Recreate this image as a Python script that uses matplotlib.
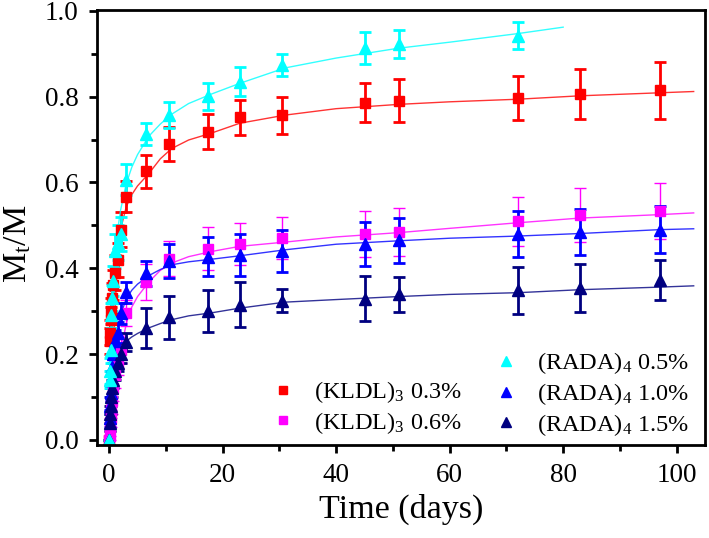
import numpy as np
import matplotlib
matplotlib.use('Agg')
import matplotlib.pyplot as plt
from matplotlib.ticker import MultipleLocator
from matplotlib.lines import Line2D

plt.rcParams['font.family'] = ['Liberation Serif', 'DejaVu Serif']
plt.rcParams['mathtext.fontset'] = 'custom'
plt.rcParams['mathtext.rm'] = 'Liberation Serif'
plt.rcParams['mathtext.it'] = 'Liberation Serif'

# release sampling times (days)
t = [0, 0.08, 0.17, 0.25, 0.33, 0.5, 0.75, 1, 1.5, 2, 3, 6.5, 10.5, 17.5, 23, 30.5, 45, 51, 72, 83, 97]
t_cyan = t[:19]

# measured Mt/M with error bars
kldl_03 = [0.0, 0.23, 0.25, 0.28, 0.30, 0.33, 0.36, 0.39, 0.42, 0.49, 0.567, 0.626, 0.689, 0.718, 0.752,
           0.757, 0.786, 0.791, 0.796, 0.806, 0.815]
kldl_03_err = [0.0, 0.03, 0.03, 0.03, 0.03, 0.035, 0.035, 0.04, 0.04, 0.04, 0.037, 0.038, 0.04, 0.041,
               0.041, 0.043, 0.045, 0.049, 0.051, 0.058, 0.066]
kldl_06 = [0.0, 0.01, 0.03, 0.05, 0.07, 0.09, 0.12, 0.15, 0.18, 0.21, 0.295, 0.368, 0.422, 0.446, 0.456,
           0.470, 0.480, 0.485, 0.509, 0.524, 0.533]
kldl_06_err = [0.0, 0.01, 0.02, 0.02, 0.02, 0.03, 0.03, 0.03, 0.03, 0.03, 0.03, 0.043, 0.041, 0.05,
               0.049, 0.049, 0.053, 0.056, 0.058, 0.062, 0.065]
rada_05 = [0.0, 0.14, 0.16, 0.21, 0.29, 0.33, 0.37, 0.44, 0.46, 0.48, 0.606, 0.713, 0.757, 0.801, 0.835,
           0.874, 0.913, 0.922, 0.942]
rada_05_err = [0.0, 0.02, 0.03, 0.03, 0.03, 0.03, 0.035, 0.04, 0.04, 0.04, 0.036, 0.026, 0.031, 0.031,
               0.033, 0.026, 0.038, 0.033, 0.032]
rada_10 = [0.0, 0.05, 0.08, 0.11, 0.14, 0.17, 0.2, 0.23, 0.25, 0.295, 0.344, 0.388, 0.417, 0.427, 0.431,
           0.441, 0.456, 0.465, 0.480, 0.485, 0.490]
rada_10_err = [0.0, 0.02, 0.02, 0.02, 0.02, 0.02, 0.02, 0.025, 0.025, 0.025, 0.025, 0.03, 0.04, 0.045,
               0.048, 0.049, 0.051, 0.052, 0.053, 0.053, 0.055]
rada_15 = [0.0, 0.04, 0.06, 0.08, 0.10, 0.12, 0.14, 0.16, 0.18, 0.2, 0.227, 0.261, 0.286, 0.300, 0.315,
           0.324, 0.329, 0.339, 0.349, 0.354, 0.373]
rada_15_err = [0.0, 0.02, 0.02, 0.02, 0.02, 0.02, 0.02, 0.02, 0.02, 0.02, 0.021, 0.046, 0.05, 0.049,
               0.052, 0.027, 0.053, 0.04, 0.055, 0.055, 0.046]

# fitted curves
tf = [0, 0.25, 0.5, 1, 1.5, 2, 3, 4, 5, 7, 9, 11, 14, 18, 23, 31, 40, 51, 60, 72, 83, 97, 103]
tf_cyan = [0, 0.25, 0.5, 1, 1.5, 2, 3, 4, 5, 7, 9, 11, 14, 18, 23, 31, 40, 51, 60, 72, 80]
fit_kldl_03 = [0, 0.07, 0.15, 0.3, 0.42, 0.49, 0.543, 0.572, 0.592, 0.621, 0.655, 0.679, 0.699, 0.715,
               0.738, 0.757, 0.772, 0.782, 0.788, 0.794, 0.802, 0.809, 0.812]
fit_kldl_06 = [0, 0.005, 0.02, 0.08, 0.15, 0.2, 0.271, 0.310, 0.334, 0.368, 0.395, 0.412, 0.427, 0.439,
               0.451, 0.461, 0.473, 0.483, 0.493, 0.506, 0.517, 0.525, 0.529]
fit_rada_05 = [0, 0.2, 0.3, 0.42, 0.49, 0.535, 0.597, 0.636, 0.665, 0.708, 0.736, 0.759, 0.784, 0.806,
               0.831, 0.867, 0.890, 0.913, 0.927, 0.947, 0.962]
fit_rada_10 = [0, 0.1, 0.15, 0.21, 0.26, 0.29, 0.329, 0.349, 0.363, 0.383, 0.397, 0.408, 0.415, 0.421,
               0.429, 0.443, 0.456, 0.464, 0.470, 0.475, 0.481, 0.490, 0.492]
fit_rada_15 = [0, 0.06, 0.1, 0.15, 0.185, 0.205, 0.230, 0.240, 0.248, 0.261, 0.271, 0.280, 0.289, 0.296,
               0.307, 0.321, 0.327, 0.334, 0.339, 0.343, 0.350, 0.356, 0.359]

labels = [r'(KLDL)$_3$ 0.3%', r'(KLDL)$_3$ 0.6%', r'(RADA)$_4$ 0.5%',
          r'(RADA)$_4$ 1.0%', r'(RADA)$_4$ 1.5%']

fig = plt.figure(figsize=(7.09, 5.38), dpi=100)
ax = fig.add_axes([0.1364, 0.1729, 0.858, 0.8085])

series = [
    (t, kldl_03, kldl_03_err, tf, fit_kldl_03, '#ff0000', 's', 2.0),
    (t, kldl_06, kldl_06_err, tf, fit_kldl_06, '#ff00ff', 's', 1.0),
    (t, rada_10, rada_10_err, tf, fit_rada_10, '#0000ff', '^', 2.0),
    (t, rada_15, rada_15_err, tf, fit_rada_15, '#000080', '^', 2.0),
    (t_cyan, rada_05, rada_05_err, tf_cyan, fit_rada_05, '#00ffff', '^', 2.0),
]
for x, y, e, xf, yf, c, m, lw in series:
    ax.plot(xf, yf, color=c, lw=1.0, alpha=0.8)
    ms = 7 if m == 's' else 9
    ax.errorbar(x, y, yerr=e, fmt=m, color=c, ms=ms, elinewidth=lw, capsize=4.5, capthick=lw)

# legend: empty slot on top of the KLDL column
blank = Line2D([], [], linestyle='none', marker='none')
handles = [blank,
           Line2D([], [], ls='none', marker='s', color='#ff0000', ms=6),
           Line2D([], [], ls='none', marker='s', color='#ff00ff', ms=6),
           Line2D([], [], ls='none', marker='^', color='#00ffff', ms=7),
           Line2D([], [], ls='none', marker='^', color='#0000ff', ms=7),
           Line2D([], [], ls='none', marker='^', color='#000080', ms=7)]
ax.legend(handles, [''] + labels[:2] + labels[2:], ncol=2, frameon=False, fontsize=17.5,
          loc='lower right', bbox_to_anchor=(1.01, -0.034), handletextpad=0.7,
          columnspacing=1.2, labelspacing=0.2, handlelength=1.2)

ax.set_xlim(-2.2, 105)
ax.set_ylim(-0.012, 1.002)
ax.xaxis.set_major_locator(MultipleLocator(20))
ax.xaxis.set_minor_locator(MultipleLocator(10))
ax.yaxis.set_major_locator(MultipleLocator(0.2))
ax.yaxis.set_minor_locator(MultipleLocator(0.1))
ax.yaxis.set_major_formatter(plt.FormatStrFormatter('%.1f'))
ax.tick_params(which='major', direction='out', length=6, width=2, labelsize=19.5, pad=7)
ax.tick_params(which='minor', direction='out', length=4, width=2)
for s in ax.spines.values():
    s.set_linewidth(2)

ax.set_xlabel('Time (days)', fontsize=24.5, labelpad=4)
ax.set_ylabel(r'M$_t$/M', fontsize=24.5)
ax.yaxis.set_label_coords(-0.105, 0.462)

fig.savefig('out.png', dpi=100)
